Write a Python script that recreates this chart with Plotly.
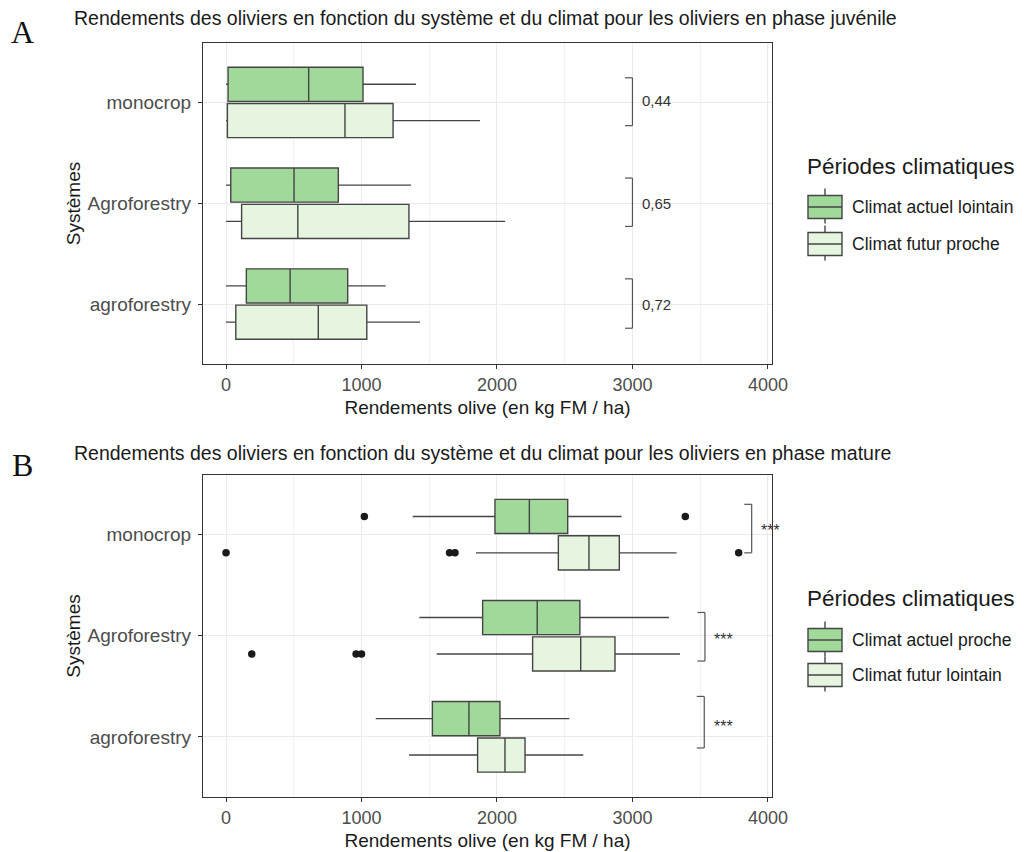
import plotly.graph_objects as go

# ---------------- DATA ----------------
systems = ["agroforestry", "Agroforestry", "monocrop"]  # bottom -> top

# Panel A (phase juvénile)
a_names = ["Climat actuel lointain", "Climat futur proche"]
a_act_low = [0, 0, 0]
a_act_q1 = [150, 35, 15]
a_act_med = [473, 502, 610]
a_act_q3 = [898, 829, 1011]
a_act_high = [1178, 1365, 1402]

a_fut_low = [0, 0, 0]
a_fut_q1 = [72, 115, 10]
a_fut_med = [681, 530, 878]
a_fut_q3 = [1039, 1350, 1233]
a_fut_high = [1432, 2060, 1875]

a_pvals = ["0,72", "0,65", "0,44"]
a_bracket_x = [3000, 3000, 3000]

# Panel B (phase mature)
b_names = ["Climat actuel proche", "Climat futur lointain"]
b_act_low = [1105, 1427, 1378]
b_act_q1 = [1523, 1894, 1985]
b_act_med = [1793, 2297, 2239]
b_act_q3 = [2022, 2612, 2522]
b_act_high = [2534, 3269, 2920]
b_act_out_x = [1021, 3390]
b_act_out_sys = ["monocrop", "monocrop"]

b_fut_low = [1351, 1555, 1845]
b_fut_q1 = [1857, 2263, 2453]
b_fut_med = [2059, 2618, 2679]
b_fut_q3 = [2207, 2871, 2903]
b_fut_high = [2637, 3351, 3326]
b_fut_out_x = [0, 1650, 1690, 3784, 190, 960, 1000]
b_fut_out_sys = ["monocrop", "monocrop", "monocrop", "monocrop",
                 "Agroforestry", "Agroforestry", "Agroforestry"]

b_pvals = ["***", "***", "***"]
b_bracket_x = [3530, 3535, 3880]

x_ticks = [0, 1000, 2000, 3000, 4000]
x_minor = [500, 1500, 2500, 3500]
legend_title = "Périodes climatiques"

# ---------------- STYLE ----------------
C_ACT = "#a1d99b"
C_FUT = "#e5f5e0"
LINE = "#454545"
FONT = "Liberation Sans, Arial, sans-serif"

# the page body has an 8px margin; figure starts at (8,8)
OX, OY = 8, 8
W, H = 1025 - 2 * OX, 852 - OY


def px(xp):
    return (xp - OX) / W


def py(yp):
    return 1 - (yp - OY) / H


xdom = [px(203), px(772)]
ydomA = [py(364), py(43)]
ydomB = [py(797), py(475)]
yrange = [-0.595, 2.59]
xrange = [-170, 4030]

fig = go.Figure()


def add_box(name, low, q1, med, q3, high, fill, xa, ya, og):
    fig.add_trace(go.Box(
        name=name, y=systems, lowerfence=low, q1=q1, median=med, q3=q3,
        upperfence=high, orientation="h", boxpoints=False,
        fillcolor=fill, line=dict(color=LINE, width=1.4), whiskerwidth=0,
        xaxis=xa, yaxis=ya, offsetgroup=og, alignmentgroup=ya,
        showlegend=False, hoverinfo="x+y",
    ))


# futur first (lower position), actuel second (upper position)
add_box(a_names[1], a_fut_low, a_fut_q1, a_fut_med, a_fut_q3, a_fut_high,
        C_FUT, "x", "y", "fut")
add_box(a_names[0], a_act_low, a_act_q1, a_act_med, a_act_q3, a_act_high,
        C_ACT, "x", "y", "act")
add_box(b_names[1], b_fut_low, b_fut_q1, b_fut_med, b_fut_q3, b_fut_high,
        C_FUT, "x2", "y2", "fut")
add_box(b_names[0], b_act_low, b_act_q1, b_act_med, b_act_q3, b_act_high,
        C_ACT, "x2", "y2", "act")

# outliers
fig.add_trace(go.Scatter(
    x=b_fut_out_x, y=b_fut_out_sys, mode="markers", orientation="h",
    marker=dict(color="#1a1a1a", size=7.5), xaxis="x2", yaxis="y2",
    offsetgroup="fut", alignmentgroup="pts", showlegend=False,
))
fig.add_trace(go.Scatter(
    x=b_act_out_x, y=b_act_out_sys, mode="markers", orientation="h",
    marker=dict(color="#1a1a1a", size=7.5), xaxis="x2", yaxis="y2",
    offsetgroup="act", alignmentgroup="pts", showlegend=False,
))

shapes = []
annotations = []


def add_brackets(bx, labels, spans, xref, yref, text_dy, font_size, yshift):
    tick = 55
    for i, (b, lab, (top, bot), tdy) in enumerate(zip(bx, labels, spans, text_dy)):
        ln = dict(color="#555555", width=1.2)
        shapes.append(dict(type="line", xref=xref, yref=yref,
                           x0=b - tick, x1=b, y0=i + top, y1=i + top, line=ln))
        shapes.append(dict(type="line", xref=xref, yref=yref,
                           x0=b, x1=b, y0=i + top, y1=i + bot, line=ln))
        shapes.append(dict(type="line", xref=xref, yref=yref,
                           x0=b - tick, x1=b, y0=i + bot, y1=i + bot, line=ln))
        annotations.append(dict(
            x=b + 55, y=i + tdy, xref=xref, yref=yref, text=lab,
            showarrow=False, xanchor="left", yanchor="middle", yshift=yshift,
            font=dict(size=font_size, color="#333333", family=FONT)))


add_brackets(a_bracket_x, a_pvals, [(0.25, -0.24), (0.25, -0.23), (0.245, -0.23)],
             "x", "y", [0, 0, 0.02], 15, 0)
add_brackets(b_bracket_x, b_pvals, [(0.40, -0.11), (0.23, -0.25), (0.30, -0.18)],
             "x2", "y2", [0.14, 0, 0.08], 16, -4)

# panel letters and titles
for letter, ypos in (("A", 32), ("B", 465)):
    annotations.append(dict(x=px(22), y=py(ypos), xref="paper", yref="paper",
                            text=letter, showarrow=False, xanchor="center",
                            yanchor="middle",
                            font=dict(size=32, color="#111111",
                                      family="Liberation Serif, Times New Roman, serif")))
for txt, ypos in (("Rendements des oliviers en fonction du système et du climat pour les oliviers en phase juvénile", 18),
                  ("Rendements des oliviers en fonction du système et du climat pour les oliviers en phase mature", 453)):
    annotations.append(dict(x=px(72), y=py(ypos), xref="paper", yref="paper",
                            text=txt, showarrow=False, xanchor="left",
                            yanchor="middle",
                            font=dict(size=19.5, color="#1a1a1a", family=FONT)))


# legends (ggplot-style keys)
def add_legend(title_y, names, item_ys):
    annotations.append(dict(x=px(805), y=py(title_y), xref="paper", yref="paper",
                            text=legend_title, showarrow=False,
                            xanchor="left", yanchor="middle",
                            font=dict(size=22.5, color="#1a1a1a", family=FONT)))
    for name, fill, yc in zip(names, (C_ACT, C_FUT), item_ys):
        kl, kr, kh = 808, 842, 11.5
        ln = dict(color=LINE, width=1.4)
        shapes.append(dict(type="line", xref="paper", yref="paper",
                           x0=px(825), x1=px(825), y0=py(yc - kh - 7), y1=py(yc + kh + 5),
                           line=ln))
        shapes.append(dict(type="rect", xref="paper", yref="paper",
                           x0=px(kl), x1=px(kr), y0=py(yc + kh), y1=py(yc - kh),
                           fillcolor=fill, line=ln))
        shapes.append(dict(type="line", xref="paper", yref="paper",
                           x0=px(kl), x1=px(kr), y0=py(yc), y1=py(yc), line=ln))
        annotations.append(dict(x=px(850), y=py(yc), xref="paper", yref="paper",
                                text=name, showarrow=False, xanchor="left",
                                yanchor="middle",
                                font=dict(size=17.5, color="#1a1a1a", family=FONT)))


add_legend(166, a_names, (207, 244))
add_legend(598, b_names, (640, 675))


def xaxis_cfg(anchor):
    return dict(
        domain=xdom, range=xrange, anchor=anchor, tickmode="array",
        tickvals=x_ticks, ticks="outside", ticklen=4, tickcolor="#333333",
        tickwidth=1.2, showline=True, linecolor="#333333", linewidth=1.3,
        mirror=True, showgrid=True, gridcolor="#ebebeb", gridwidth=1.2,
        zeroline=False,
        minor=dict(tickvals=x_minor, showgrid=True, gridcolor="#f2f2f2",
                   gridwidth=0.8, ticks=""),
        tickfont=dict(size=18, color="#4d4d4d", family=FONT),
        title=dict(text="Rendements olive (en kg FM / ha)", standoff=6,
                   font=dict(size=19, color="#1a1a1a", family=FONT)),
        automargin=False,
    )


def yaxis_cfg(anchor, dom):
    return dict(
        domain=dom, anchor=anchor, type="category", categoryorder="array",
        categoryarray=systems, range=yrange, ticks="outside", ticklen=4,
        tickcolor="#333333", tickwidth=1.2, showline=True,
        linecolor="#333333", linewidth=1.3, mirror=True, showgrid=True,
        gridcolor="#ebebeb", gridwidth=1.2, zeroline=False,
        ticklabelstandoff=3,
        tickfont=dict(size=19, color="#4d4d4d", family=FONT),
        title=dict(text="Systèmes", standoff=1,
                   font=dict(size=19, color="#1a1a1a", family=FONT)),
        automargin=False,
    )


fig.update_layout(
    width=W, height=H, margin=dict(l=0, r=0, t=0, b=0),
    paper_bgcolor="white", plot_bgcolor="white",
    boxmode="group", boxgap=0.28, boxgroupgap=0.06,
    scattermode="group", scattergap=0.28,
    xaxis=xaxis_cfg("y"), yaxis=yaxis_cfg("x", ydomA),
    xaxis2=xaxis_cfg("y2"), yaxis2=yaxis_cfg("x2", ydomB),
    showlegend=False,
    shapes=shapes, annotations=annotations,
    font=dict(family=FONT),
)

fig.write_html("out.html")
